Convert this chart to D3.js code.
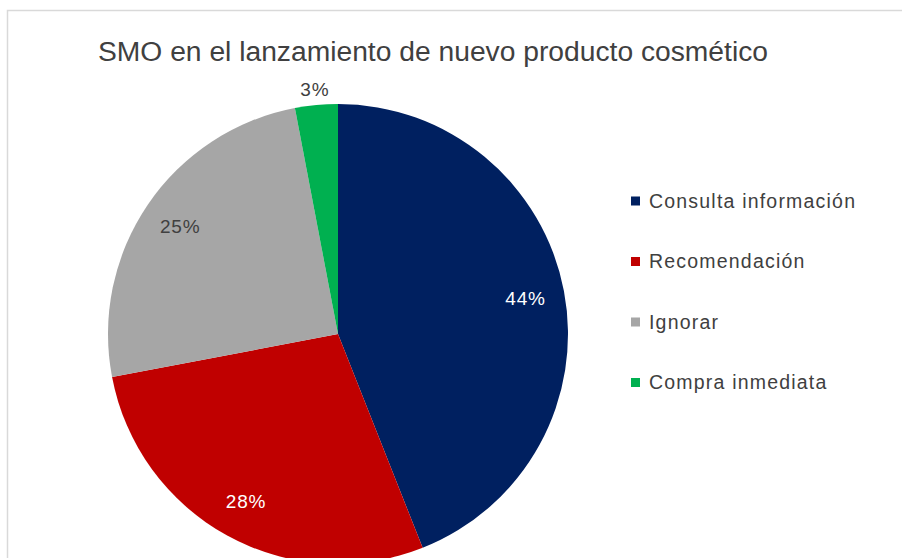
<!DOCTYPE html>
<html>
<head>
<meta charset="utf-8">
<script src="https://cdn.jsdelivr.net/npm/d3@7"></script>
<style>
  html, body { margin: 0; padding: 0; background: #fff; }
  svg { display: block; font-family: "Liberation Sans", Arial, sans-serif; }
</style>
</head>
<body>
<svg id="chart" width="902" height="558"></svg>
<script>
// Respuestas al lanzamiento (porcentajes)
const categories = ["Consulta información", "Recomendación", "Ignorar", "Compra inmediata"];
const values = [44, 28, 25, 3];
const colors = ["#002060", "#C00000", "#A6A6A6", "#00B050"];
const labelColors = ["#ffffff", "#ffffff", "#404040", "#404040"];
const title = "SMO en el lanzamiento de nuevo producto cosmético";

const svg = d3.select("#chart");

// Marco del gráfico
svg.append("rect")
  .attr("x", 7.5).attr("y", 10.5)
  .attr("width", 902).attr("height", 560)
  .attr("fill", "#fff")
  .attr("stroke", "#d9d9d9")
  .attr("stroke-width", 1.5);

svg.append("text")
  .attr("x", 98).attr("y", 61)
  .attr("font-size", 27)
  .attr("fill", "#404040")
  .attr("textLength", 670)
  .attr("lengthAdjust", "spacingAndGlyphs")
  .text(title);

const cx = 338, cy = 334, r = 230;
const data = categories.map((c, i) => ({ name: c, value: values[i], color: colors[i], lc: labelColors[i] }));

const pie = d3.pie().value(d => d.value).sort(null);
const arc = d3.arc().innerRadius(0).outerRadius(r);
const arcs = pie(data);

const g = svg.append("g").attr("transform", `translate(${cx},${cy})`);
g.selectAll("path").data(arcs).enter().append("path")
  .attr("d", arc)
  .attr("fill", d => d.data.color);

// Etiquetas de porcentaje
const inner = d3.arc().innerRadius(r * 0.83).outerRadius(r * 0.83);
const outer = d3.arc().innerRadius(r * 1.07).outerRadius(r * 1.07);
g.selectAll("text.pct").data(arcs).enter().append("text")
  .attr("class", "pct")
  .attr("transform", d => {
    const p = d.data.value < 5 ? outer.centroid(d) : inner.centroid(d);
    return `translate(${p[0]},${p[1]})`;
  })
  .attr("text-anchor", "middle")
  .attr("dy", "0.35em")
  .attr("font-size", 19)
  .attr("letter-spacing", 0.8)
  .attr("fill", d => d.data.lc)
  .text(d => d.data.value + "%");

// Leyenda
const legend = svg.append("g").attr("transform", "translate(631,201)");
const item = legend.selectAll("g").data(data).enter().append("g")
  .attr("transform", (d, i) => `translate(0,${i * 60.5})`);
item.append("rect")
  .attr("x", 0).attr("y", -4.5)
  .attr("width", 9).attr("height", 9)
  .attr("fill", d => d.color);
item.append("text")
  .attr("x", 18).attr("y", 0)
  .attr("dy", "0.35em")
  .attr("font-size", 19.5)
  .attr("letter-spacing", 1.2)
  .attr("fill", "#404040")
  .text(d => d.name);
</script>
</body>
</html>
